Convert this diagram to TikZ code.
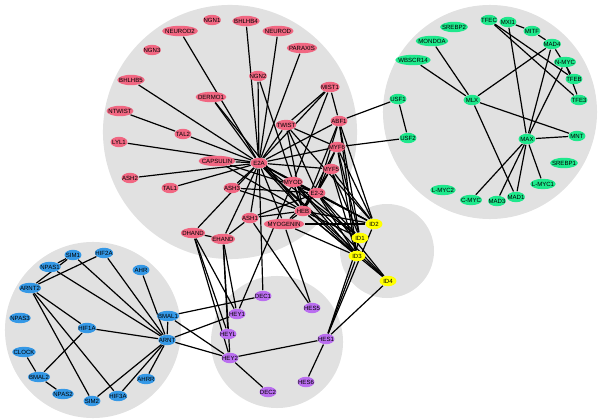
\documentclass[tikz,border=0pt]{standalone}
\usepackage{fontspec}
\setmainfont{Liberation Sans}
\usetikzlibrary{shapes.geometric}
\definecolor{bggray}{RGB}{225,225,225}
\definecolor{pinkgene}{RGB}{241,103,130}
\definecolor{greengene}{RGB}{30,232,140}
\definecolor{bluegene}{RGB}{52,152,230}
\definecolor{purplegene}{RGB}{186,110,240}
\definecolor{yellowgene}{RGB}{255,255,0}
\pgfdeclarelayer{back}
\pgfdeclarelayer{wires}
\pgfsetlayers{back,wires,main}

\begin{document}
\begin{tikzpicture}[x=0.025cm, y=-0.025cm, thick,
    gene/.style = {ellipse, inner xsep=-1.5pt, inner ysep=0.4pt, minimum height=7.4pt, minimum width=12pt, font=\fontsize{4.3}{4.3}\selectfont},
    pk/.style = {gene, fill=pinkgene},
    gr/.style = {gene, fill=greengene},
    bl/.style = {gene, fill=bluegene},
    pu/.style = {gene, fill=purplegene},
    ye/.style = {gene, fill=yellowgene},
    wire/.style = {line width=0.85pt}]
    \useasboundingbox (0,0) rectangle (600,420);

    % pink group
    \node[pk] (ngn1) at (212,20) {NGN1};
    \node[pk] (bhlhb4) at (246,21) {BHLHB4};
    \node[pk] (neurod) at (278,31) {NEUROD};
    \node[pk] (neurod2) at (180,31) {NEUROD2};
    \node[pk] (ngn3) at (152,50) {NGN3};
    \node[pk] (paraxis) at (302,48) {PARAXIS};
    \node[pk] (ngn2) at (258,76) {NGN2};
    \node[pk] (bhlhb5) at (131,80) {BHLHB5};
    \node[pk] (dermo1) at (211,97) {DERMO1};
    \node[pk] (mist1) at (330,87) {MIST1};
    \node[pk] (ntwist) at (120,111) {NTWIST};
    \node[pk] (tal2) at (183,134) {TAL2};
    \node[pk] (twist) at (286,125) {TWIST};
    \node[pk] (abf1) at (339,121) {ABF1};
    \node[pk] (lyl1) at (119,142) {LYL1};
    \node[pk] (myf6) at (337,147) {MYF6};
    \node[pk] (capsulin) at (217,161) {CAPSULIN};
    \node[pk] (e2a) at (259,163) {E2A};
    \node[pk] (myf5) at (331,169) {MYF5};
    \node[pk] (ash2) at (130,178) {ASH2};
    \node[pk] (tal1) at (170,188) {TAL1};
    \node[pk] (ash3) at (232,188) {ASH3};
    \node[pk] (myod) at (293,182) {MYOD};
    \node[pk] (e22) at (317,193) {E2-2};
    \node[pk] (heb) at (303,211) {HEB};
    \node[pk] (ash1) at (250,218) {ASH1};
    \node[pk] (myogenin) at (284,224) {MYOGENIN};
    \node[pk] (dhand) at (193,233) {DHAND};
    \node[pk] (ehand) at (223,239) {EHAND};

    % yellow group
    \node[ye] (id2) at (374,224) {ID2};
    \node[ye] (id1) at (360,238) {ID1};
    \node[ye] (id3) at (357,256) {ID3};
    \node[ye] (id4) at (388,281) {ID4};

    % green group
    \node[gr] (tfec) at (489,20) {TFEC};
    \node[gr] (mxi1) at (508,22) {MXI1};
    \node[gr] (srebp2) at (454,27) {SREBP2};
    \node[gr] (mitf) at (532,31) {MITF};
    \node[gr] (mondoa) at (432,41) {MONDOA};
    \node[gr] (mad4) at (552,44) {MAD4};
    \node[gr] (wbscr14) at (413,60) {WBSCR14};
    \node[gr] (nmyc) at (565,62) {N-MYC};
    \node[gr] (tfeb) at (574,79) {TFEB};
    \node[gr] (usf1) at (398,99) {USF1};
    \node[gr] (mlx) at (472,100) {MLX};
    \node[gr] (tfe3) at (579,100) {TFE3};
    \node[gr] (usf2) at (408,138) {USF2};
    \node[gr] (max) at (527,139) {MAX};
    \node[gr] (mnt) at (577,136) {MNT};
    \node[gr] (srebp1) at (564,163) {SREBP1};
    \node[gr] (lmyc1) at (543,184) {L-MYC1};
    \node[gr] (lmyc2) at (443,190) {L-MYC2};
    \node[gr] (cmyc) at (471,200) {C-MYC};
    \node[gr] (mad3) at (497,201) {MAD3};
    \node[gr] (mad1) at (516,197) {MAD1};

    % blue group
    \node[bl] (sim1) at (73,255) {SIM1};
    \node[bl] (hif2a) at (104,253) {HIF2A};
    \node[bl] (npas1) at (50,267) {NPAS1};
    \node[bl] (ahr) at (141,270) {AHR};
    \node[bl] (arnt2) at (30,288) {ARNT2};
    \node[bl] (bmal1) at (168,316) {BMAL1};
    \node[bl] (npas3) at (20,318) {NPAS3};
    \node[bl] (hif1a) at (87,328) {HIF1A};
    \node[bl] (arnt) at (167,340) {ARNT};
    \node[bl] (clock) at (24,352) {CLOCK};
    \node[bl] (bmal2) at (39,377) {BMAL2};
    \node[bl] (ahrr) at (146,379) {AHRR};
    \node[bl] (npas2) at (63,394) {NPAS2};
    \node[bl] (hif3a) at (118,396) {HIF3A};
    \node[bl] (sim2) at (92,401) {SIM2};

    % purple group
    \node[pu] (dec1) at (263,296) {DEC1};
    \node[pu] (hes5) at (312,308) {HES5};
    \node[pu] (hey1) at (237,314) {HEY1};
    \node[pu] (heyl) at (228,334) {HEYL};
    \node[pu] (hes1) at (326,339) {HES1};
    \node[pu] (hey2) at (230,358) {HEY2};
    \node[pu] (hes6) at (306,382) {HES6};
    \node[pu] (dec2) at (268,392) {DEC2};

    \begin{pgfonlayer}{back}
    \fill[bggray] (230,132) circle[radius=3.175cm];
    \fill[bggray] (490,112) circle[radius=2.675cm];
    \fill[bggray] (387,251) circle[radius=1.175cm];
    \fill[bggray] (93,330) circle[radius=2.2cm];
    \fill[bggray] (277,342) circle[radius=1.65cm];
    \end{pgfonlayer}

    \begin{pgfonlayer}{wires}
    \draw[wire] (e2a) edge (neurod2) edge (bhlhb5) edge (tal2) edge (lyl1) edge (capsulin)
        edge (ash2) edge (tal1) edge (dermo1) edge (ngn2) edge (bhlhb4) edge (neurod)
        edge (paraxis) edge (mist1) edge (twist) edge (abf1) edge (myf6) edge (myf5)
        edge (myod) edge (ash3) edge (ash1) edge (myogenin) edge (dhand) edge (ehand)
        edge (heb) edge (e22) edge (id1) edge (id2) edge (id3) edge (id4) edge (dec1);
    \draw[wire] (e22) edge (twist) edge (abf1) edge (myf6) edge (myf5) edge (myod)
        edge (myogenin) edge (ash1) edge (ash3) edge (capsulin)
        edge (id1) edge (id2) edge (id3) edge (id4);
    \draw[wire] (heb) edge (twist) edge (abf1) edge (myf6) edge (myf5) edge (myod)
        edge (myogenin) edge (ash1) edge (ash3) edge (capsulin) edge (ngn2) edge (dermo1)
        edge (id1) edge (id2) edge (id3) edge (id4);
    \draw[wire] (myod) edge (id1) edge (id2) edge (id3) edge (id4) edge (hey1) edge (mist1);
    \draw[wire] (myf5) edge (id1) edge (id2) edge (id3);
    \draw[wire] (myf6) edge (id1) edge (id2) edge (id3) edge (usf2) edge (twist);
    \draw[wire] (abf1) edge (id1) edge (id2) edge (id3) edge (usf1) edge (mist1);
    \draw[wire] (mist1) -- (twist);
    \draw[wire] (twist) -- (id2);
    \draw[wire] (ntwist) -- (tal2);
    \draw[wire] (myogenin) edge (id2) edge (id3) edge (hes5);
    \draw[wire] (ash1) edge (hes5) edge (ehand);
    \draw[wire] (dhand) edge (ehand) edge (hey1) edge (heyl) edge (hey2);
    \draw[wire] (ehand) edge (hey1) edge (heyl) edge (hey2);
    \draw[wire] (hes1) edge (id1) edge (id2) edge (id3) edge (id4) edge (hey2) edge (hes6);
    \draw[wire] (hey2) edge (dec2) edge (bmal1) edge (arnt);
    \draw[wire] (dec1) -- (bmal1);
    \draw[wire] (hey1) -- (arnt);
    % blue links
    \draw[wire] (arnt) edge (npas1) edge (sim1) edge (hif2a) edge (ahr) edge (bmal1)
        edge (hif1a) edge (ahrr) edge (hif3a) edge (sim2);
    \draw[wire] (arnt2) edge (hif2a) edge (sim1) edge (hif1a) edge (sim2) edge (hif3a);
    \draw[wire] (npas1) -- (sim1);
    \draw[wire] (bmal2) edge (hif1a) edge (clock) edge (npas2);
    % green links
    \draw[wire] (mlx) edge (mondoa) edge (wbscr14) edge (mad4) edge (mnt) edge (mad1);
    \draw[wire] (max) edge (mxi1) edge (mad4) edge (nmyc) edge (mnt) edge (cmyc)
        edge (mad3) edge (mad1) edge (lmyc1);
    \draw[wire] (tfec) edge (tfeb) edge (tfe3);
    \draw[wire] (mxi1) -- (mitf);
    \draw[wire] (mitf) -- (mad4);
    \draw[wire] (mad4) -- (tfeb);
    \draw[wire] (nmyc) -- (tfe3);
    \draw[wire] (usf1) -- (usf2);
    \end{pgfonlayer}
\end{tikzpicture}
\end{document}
